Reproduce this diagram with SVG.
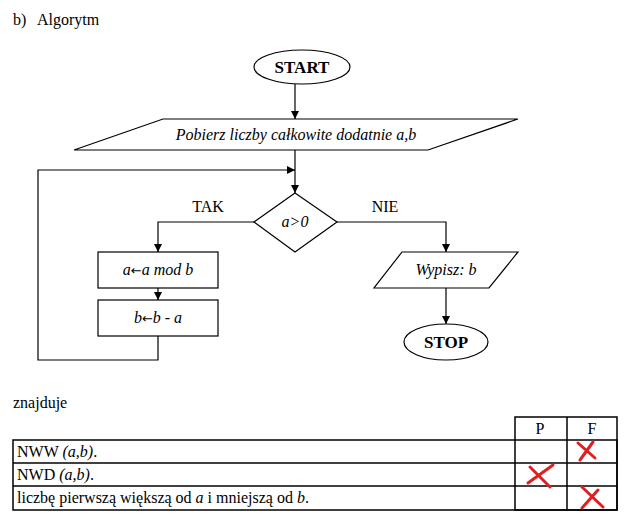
<svg xmlns="http://www.w3.org/2000/svg" width="634" height="523" viewBox="0 0 634 523">
<defs>
<marker id="ah" viewBox="0 0 8 8" refX="8" refY="4" markerWidth="8" markerHeight="8" markerUnits="userSpaceOnUse" orient="auto">
<path d="M0,0 L8,4 L0,8 Z" fill="#000"/>
</marker>
<style>
.sh{fill:#fff;stroke:#000;stroke-width:1.2}
.ln{fill:none;stroke:#000;stroke-width:1.2}
.tb{fill:none;stroke:#000;stroke-width:1.5}
.x{fill:none;stroke:#e02020;stroke-width:3;stroke-linecap:round}
</style>
</defs>
<rect width="634" height="523" fill="#fff"/>
<g font-family="Liberation Serif" font-size="16" fill="#000">
<text x="13" y="25">b)</text>
<text x="37" y="25">Algorytm</text>

<g id="connectors">
<line class="ln" x1="295" y1="84" x2="295" y2="119" marker-end="url(#ah)"/>
<line class="ln" x1="295" y1="150" x2="295" y2="193" marker-end="url(#ah)"/>
<polyline class="ln" points="158,336 158,360 38,360 38,170 295,170" marker-end="url(#ah)"/>
<polyline class="ln" points="254,222 158,222 158,252" marker-end="url(#ah)"/>
<line class="ln" x1="158" y1="288" x2="158" y2="300" marker-end="url(#ah)"/>
<polyline class="ln" points="337,222 446,222 446,252" marker-end="url(#ah)"/>
<line class="ln" x1="446" y1="288" x2="446" y2="324" marker-end="url(#ah)"/>
<text x="208" y="212" text-anchor="middle">TAK</text>
<text x="385" y="212" text-anchor="middle">NIE</text>
</g>

<g id="start">
<ellipse class="sh" cx="302" cy="67" rx="48" ry="17"/>
<text x="302" y="73" text-anchor="middle" font-weight="bold" font-size="17">START</text>
</g>
<g id="input">
<polygon class="sh" points="163,119 518,119 428,150 74,150"/>
<text x="296" y="140" text-anchor="middle" font-style="italic">Pobierz liczby całkowite dodatnie a,b</text>
</g>
<g id="decision">
<polygon class="sh" points="295,193 337,222 295,252 254,222"/>
<text x="295" y="227" text-anchor="middle" font-style="italic">a&gt;0</text>
</g>
<g id="assign1">
<rect class="sh" x="98" y="252" width="120" height="36"/>
<text x="158" y="275" text-anchor="middle" font-style="italic">a<tspan font-family="DejaVu Sans" font-style="normal" font-size="13">←</tspan>a mod b</text>
</g>
<g id="assign2">
<rect class="sh" x="98" y="300" width="120" height="36"/>
<text x="158" y="323" text-anchor="middle" font-style="italic">b<tspan font-family="DejaVu Sans" font-style="normal" font-size="13">←</tspan>b - a</text>
</g>
<g id="output">
<polygon class="sh" points="402,252 518,252 489,288 374,288"/>
<text x="446" y="275" text-anchor="middle" font-style="italic">Wypisz: b</text>
</g>
<g id="stop">
<ellipse class="sh" cx="446" cy="342" rx="42" ry="18"/>
<text x="446" y="348" text-anchor="middle" font-weight="bold" font-size="17">STOP</text>
</g>

<text x="13" y="408">znajduje</text>

<g id="table">
<rect class="tb" x="515" y="417" width="102" height="93"/>
<rect class="tb" x="13" y="440" width="604" height="70"/>
<line class="tb" x1="13" y1="463" x2="617" y2="463"/>
<line class="tb" x1="13" y1="486" x2="617" y2="486"/>
<line class="tb" x1="567" y1="417" x2="567" y2="510"/>
<text x="540" y="434" text-anchor="middle">P</text>
<text x="592" y="434" text-anchor="middle">F</text>
<text x="17" y="457">NWW <tspan font-style="italic">(a,b)</tspan>.</text>
<text x="17" y="480">NWD <tspan font-style="italic">(a,b)</tspan>.</text>
<text x="17" y="503">liczbę pierwszą większą od <tspan font-style="italic">a</tspan> i mniejszą od <tspan font-style="italic">b</tspan>.</text>
</g>
</g>
<g id="marks">
<path class="x" d="M578,443 L595,458 M593,442 L580,460"/>
<path class="x" d="M530,467 L550,487 M553,465 L528,483"/>
<path class="x" d="M582,487 L603,507 M598,490 L582,508"/>
</g>
</svg>
